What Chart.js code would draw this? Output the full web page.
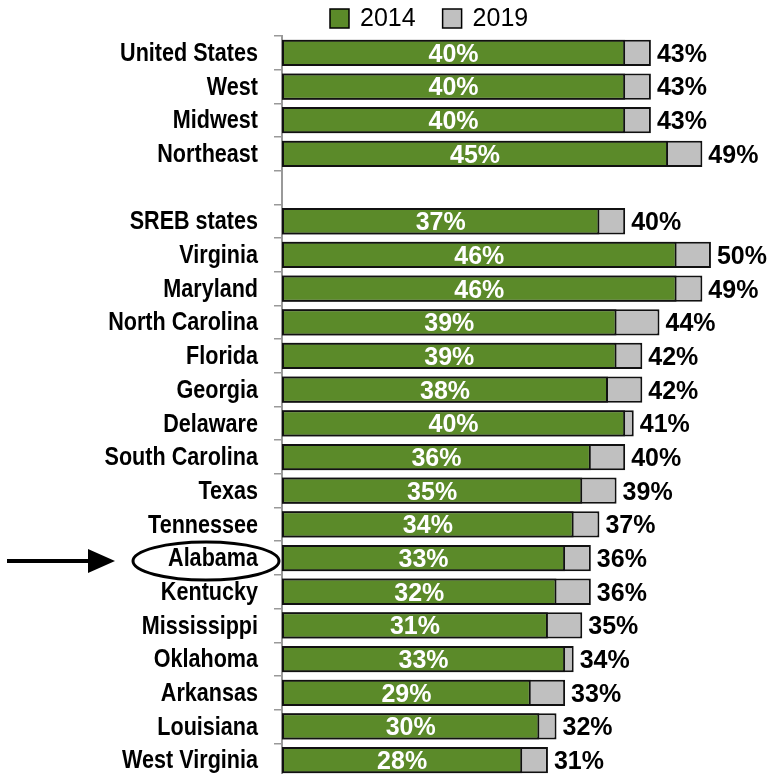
<!DOCTYPE html>
<html>
<head>
<meta charset="utf-8">
<script src="https://cdn.jsdelivr.net/npm/chart.js@4.4.1/dist/chart.umd.min.js"></script>
<style>
  html, body { margin: 0; padding: 0; background: #fff; overflow: hidden; }
  #wrap { width: 772px; height: 777px; position: relative; }
</style>
</head>
<body>
<div id="wrap"><canvas id="myChart"></canvas></div>
<script>
// '' is the blank spacer row between the regions and the SREB states
const categories = [
    'United States', 'West', 'Midwest', 'Northeast', '',
    'SREB states', 'Virginia', 'Maryland', 'North Carolina', 'Florida', 'Georgia',
    'Delaware', 'South Carolina', 'Texas', 'Tennessee', 'Alabama', 'Kentucky',
    'Mississippi', 'Oklahoma', 'Arkansas', 'Louisiana', 'West Virginia'
];
const values2014 = [40, 40, 40, 45, null, 37, 46, 46, 39, 39, 38, 40, 36, 35, 34, 33, 32, 31, 33, 29, 30, 28];
const values2019 = [43, 43, 43, 49, null, 40, 50, 49, 44, 42, 42, 41, 40, 39, 37, 36, 36, 35, 34, 33, 32, 31];
const highlighted = 'Alabama';

const GREEN = '#5b8a29';
const GRAY = '#c0c0c0';
const FONT = "'Liberation Sans', Arial, sans-serif";

const labelPlugin = {
    id: 'barLabels',
    afterDatasetsDraw(chart) {
        const ctx = chart.ctx;
        const m14 = chart.getDatasetMeta(0);
        const m19 = chart.getDatasetMeta(1);
        ctx.save();
        ctx.textBaseline = 'middle';
        m14.data.forEach((bar, i) => {
            if (values2014[i] == null) return;
            ctx.font = 'bold 25px ' + FONT;
            ctx.fillStyle = '#fff';
            ctx.textAlign = 'center';
            ctx.fillText(values2014[i] + '%', (bar.base + bar.x) / 2, bar.y + 2);
            const b19 = m19.data[i];
            ctx.fillStyle = '#000';
            ctx.textAlign = 'left';
            ctx.fillText(values2019[i] + '%', b19.x + 6, b19.y + 2);
        });
        ctx.restore();
    },
    afterDraw(chart) {
        const ctx = chart.ctx;
        const area = chart.chartArea;
        const yScale = chart.scales.y;
        ctx.save();
        // category names, a narrow bold face like the original
        ctx.font = 'bold 26px ' + FONT;
        ctx.fillStyle = '#000';
        ctx.textAlign = 'right';
        ctx.textBaseline = 'middle';
        categories.forEach((name, i) => {
            if (!name) return;
            ctx.save();
            ctx.translate(area.left - 24, yScale.getPixelForValue(i) + 1);
            ctx.scale(0.83, 1);
            ctx.fillText(name, 0, 0);
            ctx.restore();
        });
        // legend
        ctx.font = '25px ' + FONT;
        ctx.textAlign = 'left';
        let lx = 330;
        const ly = 18;
        chart.data.datasets.forEach(ds => {
            ctx.fillStyle = ds.backgroundColor;
            ctx.fillRect(lx, ly - 9, 19, 19);
            ctx.strokeStyle = '#000';
            ctx.lineWidth = 1.5;
            ctx.strokeRect(lx, ly - 9, 19, 19);
            ctx.fillStyle = '#000';
            ctx.fillText(ds.label, lx + 30, ly + 1);
            lx += 30 + ctx.measureText(ds.label).width + 27;
        });
        // highlight ring and arrow on the Alabama label
        const cy = yScale.getPixelForValue(categories.indexOf(highlighted)) + 3;
        const cx = area.left - 76;
        ctx.strokeStyle = '#000';
        ctx.lineWidth = 3;
        ctx.beginPath();
        ctx.ellipse(cx, cy, 73, 19, 0, 0, Math.PI * 2);
        ctx.stroke();
        ctx.lineWidth = 4;
        ctx.beginPath();
        ctx.moveTo(7, cy);
        ctx.lineTo(92, cy);
        ctx.stroke();
        ctx.fillStyle = '#000';
        ctx.beginPath();
        ctx.moveTo(88, cy - 12);
        ctx.lineTo(115, cy);
        ctx.lineTo(88, cy + 12);
        ctx.closePath();
        ctx.fill();
        ctx.restore();
    }
};

const chartCtx = document.getElementById('myChart').getContext('2d');
const chartConfig = {
    type: 'bar',
    data: {
        labels: categories,
        datasets: [{
            label: '2014',
            data: values2014,
            backgroundColor: GREEN,
            borderColor: '#111',
            borderWidth: 2,
            borderSkipped: false,
            order: 0
        }, {
            label: '2019',
            data: values2019,
            backgroundColor: GRAY,
            borderColor: '#111',
            borderWidth: 2,
            borderSkipped: false,
            order: 1
        }]
    },
    options: {
        indexAxis: 'y',
        responsive: true,
        maintainAspectRatio: false,
        devicePixelRatio: 1,
        animation: false,
        barPercentage: 0.78,
        categoryPercentage: 1,
        layout: { padding: { top: 36, left: 0, right: 1, bottom: 0 } },
        plugins: {
            legend: { display: false },
            tooltip: { enabled: false }
        },
        scales: {
            x: {
                display: false,
                min: 0,
                max: 57,
                stacked: false
            },
            y: {
                stacked: true,
                afterFit: scale => {
                    scale.width = 282;
                    scale.paddingTop = 0;
                    scale.paddingBottom = 0;
                },
                grid: {
                    offset: true,
                    drawOnChartArea: false,
                    tickLength: 8,
                    color: '#999',
                    lineWidth: 1.5
                },
                border: { color: '#999', width: 2 },
                ticks: {
                    padding: 16,
                    color: 'rgba(0,0,0,0)',
                    font: { family: FONT, size: 21, weight: 'bold' }
                }
            }
        }
    },
    plugins: [labelPlugin]
};

new Chart(chartCtx, chartConfig);
</script>
</body>
</html>
